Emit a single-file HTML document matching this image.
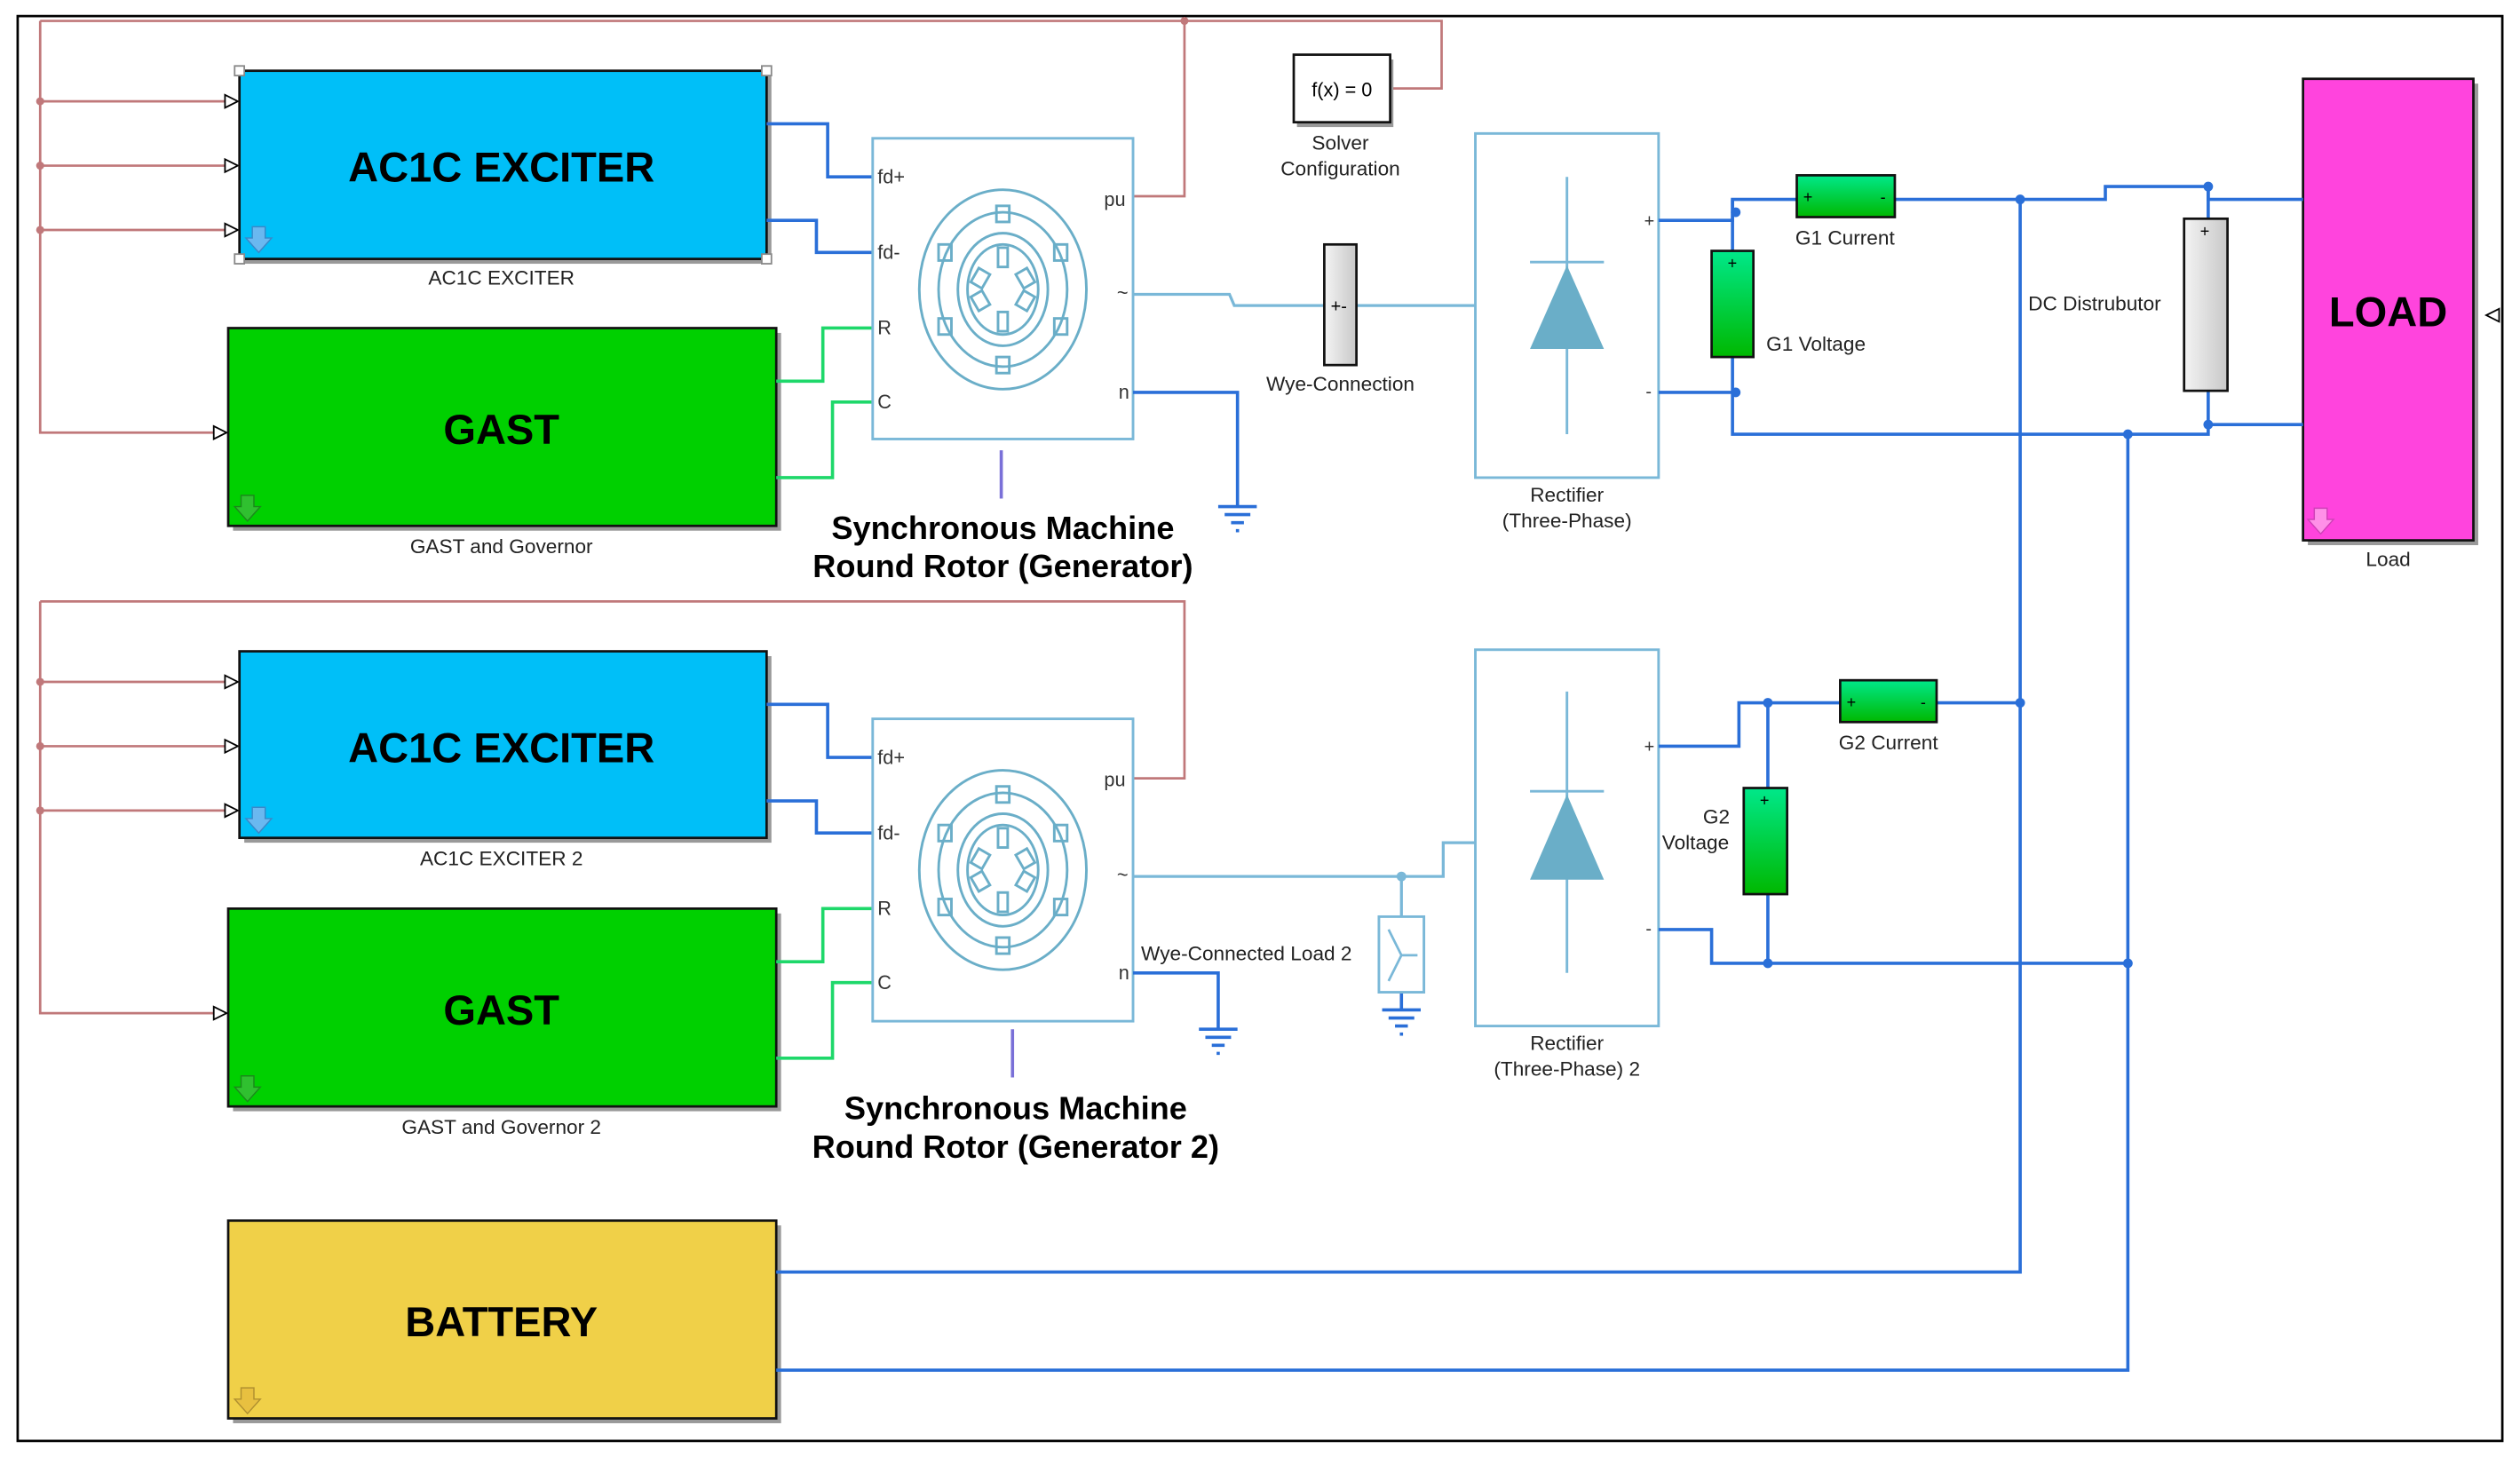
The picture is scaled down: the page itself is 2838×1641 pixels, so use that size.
<!DOCTYPE html>
<html><head><meta charset="utf-8"><style>html,body{margin:0;padding:0;background:#fff}svg{display:block}</style></head>
<body>
<svg width="2838" height="1641" viewBox="0 0 1568 906" preserveAspectRatio="none" xmlns="http://www.w3.org/2000/svg" font-family="Liberation Sans, Arial, sans-serif">
<defs>
<linearGradient id="gr" x1="0" y1="0" x2="0" y2="1"><stop offset="0" stop-color="#00e88a"/><stop offset="1" stop-color="#00b800"/></linearGradient>
<linearGradient id="gy" x1="0" y1="0" x2="1" y2="0"><stop offset="0" stop-color="#f4f4f4"/><stop offset="1" stop-color="#c8c8c8"/></linearGradient>
<path id="dar" d="M-4 -8 H4 V-1 H8 L0 8 L-8 -1 H-4Z"/>
<g id="mot" fill="none" stroke="#6aaec8" stroke-width="1.6">
<ellipse cx="0" cy="0" rx="52" ry="62"/><ellipse cx="0" cy="0" rx="40" ry="48"/>
<ellipse cx="0" cy="0" rx="28" ry="35"/><ellipse cx="0" cy="0" rx="22" ry="28"/>
<rect x="-4" y="-52" width="8" height="10"/><rect x="-4" y="42" width="8" height="10"/>
<rect x="-40" y="-28" width="8" height="10"/><rect x="32" y="-28" width="8" height="10"/>
<rect x="-40" y="18" width="8" height="10"/><rect x="32" y="18" width="8" height="10"/>
<rect x="-3" y="-26" width="6" height="12"/><rect x="-3" y="14" width="6" height="12"/>
<rect x="-18" y="-12" width="8" height="10" transform="rotate(30 -14 -7)"/><rect x="10" y="-12" width="8" height="10" transform="rotate(-30 14 -7)"/>
<rect x="-18" y="2" width="8" height="10" transform="rotate(-30 -14 7)"/><rect x="10" y="2" width="8" height="10" transform="rotate(30 14 7)"/>
</g>
</defs>
<rect x="11" y="10" width="1546" height="886" fill="#fff" stroke="#000" stroke-width="1.5"/>

<g fill="none" stroke="#c0787a" stroke-width="1.5">
<path d="M25 13 H897 V55 H866"/><path d="M737 13 V122 H705"/>
<path d="M25 13 V269 H138"/><path d="M25 63 H143 M25 103 H143 M25 143 H143"/>
<path d="M25 374 H737 V484 H705"/><path d="M25 374 V630 H138"/><path d="M25 424 H143 M25 464 H143 M25 504 H143"/>
</g>
<g fill="#c0787a"><circle cx="25" cy="63" r="2.5"/><circle cx="25" cy="103" r="2.5"/><circle cx="25" cy="143" r="2.5"/><circle cx="737" cy="13" r="2.5"/>
<circle cx="25" cy="424" r="2.5"/><circle cx="25" cy="464" r="2.5"/><circle cx="25" cy="504" r="2.5"/></g>
<g fill="#fff" stroke="#000" stroke-width="1">
<path d="M140 59 L148 63 L140 67Z"/><path d="M140 99 L148 103 L140 107Z"/><path d="M140 139 L148 143 L140 147Z"/><path d="M133 265 L141 269 L133 273Z"/>
<path d="M140 420 L148 424 L140 428Z"/><path d="M140 460 L148 464 L140 468Z"/><path d="M140 500 L148 504 L140 508Z"/><path d="M133 626 L141 630 L133 634Z"/>
<path d="M1555 192 L1547 196 L1555 200Z"/>
</g>

<g stroke="#111" stroke-width="1.5">
<rect x="152" y="47" width="328" height="117" fill="#999" stroke="none"/><rect x="149" y="44" width="328" height="117" fill="#00bff8"/>
<rect x="145" y="207" width="341" height="123" fill="#999" stroke="none"/><rect x="142" y="204" width="341" height="123" fill="#00d000"/>
<rect x="152" y="408" width="328" height="116" fill="#999" stroke="none"/><rect x="149" y="405" width="328" height="116" fill="#00bff8"/>
<rect x="145" y="568" width="341" height="123" fill="#999" stroke="none"/><rect x="142" y="565" width="341" height="123" fill="#00d000"/>
<rect x="145" y="762" width="341" height="123" fill="#999" stroke="none"/><rect x="142" y="759" width="341" height="123" fill="#f0d048"/>
<rect x="1436" y="52" width="106" height="287" fill="#999" stroke="none"/><rect x="1433" y="49" width="106" height="287" fill="#ff44dd"/>
</g>
<g fill="#fff" stroke="#888" stroke-width="1"><rect x="146" y="41" width="6" height="6"/><rect x="474" y="41" width="6" height="6"/><rect x="146" y="158" width="6" height="6"/><rect x="474" y="158" width="6" height="6"/></g>
<g font-weight="bold" font-size="26" text-anchor="middle" fill="#000">
<text x="312" y="113">AC1C EXCITER</text><text x="312" y="276">GAST</text>
<text x="312" y="474">AC1C EXCITER</text><text x="312" y="637">GAST</text>
<text x="312" y="831">BATTERY</text><text x="1486" y="203">LOAD</text>
</g>
<g fill="#6ab8f0" stroke="#3a88c8" stroke-width="0.8"><use href="#dar" x="161" y="149"/><use href="#dar" x="161" y="510"/></g>
<g fill="#30c030" stroke="#1a8a1a" stroke-width="0.8"><use href="#dar" x="154" y="316"/><use href="#dar" x="154" y="677"/></g>
<g fill="#e8c040" stroke="#b09030" stroke-width="0.8"><use href="#dar" x="154" y="871"/></g>
<g fill="#ff90e8" stroke="#d040b8" stroke-width="0.8"><use href="#dar" x="1444" y="324"/></g>

<g font-size="12.5" text-anchor="middle" fill="#222">
<text x="312" y="177">AC1C EXCITER</text><text x="312" y="344">GAST and Governor</text>
<text x="312" y="538">AC1C EXCITER 2</text><text x="312" y="705">GAST and Governor 2</text>
<text x="1486" y="352">Load</text>
<text x="834" y="93">Solver</text><text x="834" y="109">Configuration</text>
<text x="834" y="243">Wye-Connection</text>
<text x="975" y="312">Rectifier</text><text x="975" y="328">(Three-Phase)</text>
<text x="975" y="653">Rectifier</text><text x="975" y="669">(Three-Phase) 2</text>
<text x="1148" y="152">G1 Current</text><text x="1175" y="466">G2 Current</text>
<text x="1068" y="512">G2</text><text x="1055" y="528">Voltage</text>
</g>
<g font-size="12.5" fill="#222"><text x="1099" y="218">G1 Voltage</text><text x="1262" y="193">DC Distrubutor</text><text x="710" y="597">Wye-Connected Load 2</text></g>

<g fill="none" stroke-width="2">
<path d="M477 77 H515 V110 H543 M477 137 H508 V157 H543" stroke="#2a6fd8"/>
<path d="M483 237 H512 V204 H543 M483 297 H518 V250 H543" stroke="#1ed86a"/>
<path d="M477 438 H515 V471 H543 M477 498 H508 V518 H543" stroke="#2a6fd8"/>
<path d="M483 598 H512 V565 H543 M483 658 H518 V611 H543" stroke="#1ed86a"/>
</g>

<g fill="none" stroke="#7ab8d8" stroke-width="1.6"><rect x="543" y="86" width="162" height="187"/><rect x="543" y="447" width="162" height="188"/></g>
<use href="#mot" x="624" y="180"/><use href="#mot" x="624" y="541"/>
<g font-size="12" fill="#333">
<text x="546" y="114">fd+</text><text x="546" y="161">fd-</text><text x="546" y="208">R</text><text x="546" y="254">C</text>
<text x="687" y="128">pu</text><text x="695" y="186">~</text><text x="696" y="248">n</text>
<text x="546" y="475">fd+</text><text x="546" y="522">fd-</text><text x="546" y="569">R</text><text x="546" y="615">C</text>
<text x="687" y="489">pu</text><text x="695" y="548">~</text><text x="696" y="609">n</text>
</g>
<g stroke="#7a70d8" stroke-width="2"><line x1="623" y1="280" x2="623" y2="310"/><line x1="630" y1="640" x2="630" y2="670"/></g>
<g font-weight="bold" font-size="20" text-anchor="middle" fill="#000">
<text x="624" y="335">Synchronous Machine</text><text x="624" y="359">Round Rotor (Generator)</text>
<text x="632" y="696">Synchronous Machine</text><text x="632" y="720">Round Rotor (Generator 2)</text>
</g>

<g stroke="#2a6fd8" stroke-width="2" fill="none">
<path d="M705 244 H770 V315"/><path d="M758 315 H782 M762 320 H778 M766 325 H774 M769 330 H771"/>
<path d="M705 605 H758 V640"/><path d="M746 640 H770 M750 645 H766 M754 650 H762 M757 655 H759"/>
<path d="M872 617 V628"/><path d="M860 628 H884 M864 633 H880 M868 638 H876 M871 643 H873"/>
</g>

<g stroke="#7ab8d8" stroke-width="1.8" fill="none">
<path d="M705 183 H765 L768 190 H918"/>
<path d="M705 545 H898 V524 H918"/><path d="M872 545 V570"/>
</g>
<circle cx="872" cy="545" r="3" fill="#7ab8d8"/>
<rect x="824" y="152" width="20" height="75" fill="url(#gy)" stroke="#111" stroke-width="1.5"/>
<text x="828" y="194" font-size="11">+-</text>
<rect x="858" y="570" width="28" height="47" fill="#fff" stroke="#7ab8d8" stroke-width="1.6"/>
<path d="M864 578 L872 594 L864 610 M872 594 H882" stroke="#7ab8d8" stroke-width="1.5" fill="none"/>
<rect x="807" y="37" width="60" height="42" fill="#999"/>
<rect x="805" y="34" width="60" height="42" fill="#fff" stroke="#111" stroke-width="1.5"/>
<text x="835" y="60" font-size="12" text-anchor="middle">f(x) = 0</text>

<g stroke="#7ab8d8" stroke-width="1.6" fill="none"><rect x="918" y="83" width="114" height="214"/><rect x="918" y="404" width="114" height="234"/>
<path d="M975 110 V270 M952 163 H998 M975 430 V605 M952 492 H998"/></g>
<path d="M975 165 L998 217 H952Z M975 494 L998 547 H952Z" fill="#6aaec8"/>
<g font-size="11" fill="#333"><text x="1023" y="141">+</text><text x="1024" y="247">-</text><text x="1023" y="468">+</text><text x="1024" y="581">-</text></g>

<g stroke="#2a6fd8" stroke-width="2" fill="none">
<path d="M1032 137 H1078 V124 H1118 M1179 124 H1310 V116 H1374 V124 H1433"/>
<path d="M1078 124 V270 M1032 244 H1078 V270 H1374 V264 H1433 M1374 116 V264"/>
<path d="M1257 124 V791 H483 M1324 270 V852 H483"/>
<path d="M1032 464 H1082 V437 H1145 M1205 437 H1257"/>
<path d="M1100 437 V599 M1032 578 H1065 V599 H1324"/>
</g>
<g fill="#2a6fd8"><circle cx="1080" cy="132" r="3"/><circle cx="1080" cy="244" r="3"/><circle cx="1257" cy="124" r="3"/><circle cx="1374" cy="116" r="3"/><circle cx="1374" cy="264" r="3"/><circle cx="1324" cy="270" r="3"/>
<circle cx="1257" cy="437" r="3"/><circle cx="1100" cy="437" r="3"/><circle cx="1100" cy="599" r="3"/><circle cx="1324" cy="599" r="3"/></g>
<g stroke="#111" stroke-width="1.5">
<rect x="1118" y="109" width="61" height="26" fill="url(#gr)"/>
<rect x="1065" y="156" width="26" height="66" fill="url(#gr)"/>
<rect x="1145" y="423" width="60" height="26" fill="url(#gr)"/>
<rect x="1085" y="490" width="27" height="66" fill="url(#gr)"/>
<rect x="1359" y="136" width="27" height="107" fill="url(#gy)"/>
</g>
<g font-size="10" fill="#000"><text x="1122" y="126">+</text><text x="1170" y="126">-</text><text x="1075" y="167">+</text>
<text x="1149" y="440">+</text><text x="1195" y="440">-</text><text x="1095" y="501">+</text><text x="1369" y="147">+</text></g>
</svg>
</body></html>
